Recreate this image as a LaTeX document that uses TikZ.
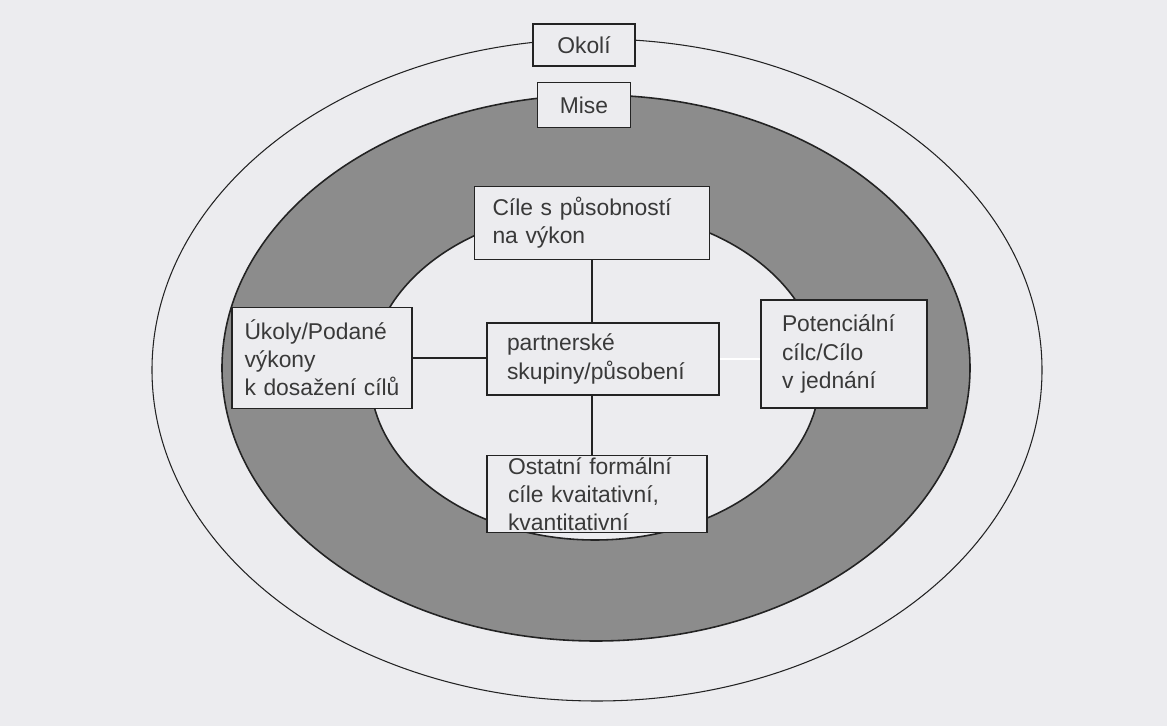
\documentclass[tikz,border=0pt]{standalone}
\usepackage{fontspec}
\setmainfont{Liberation Sans}
\usepackage{xcolor}
\usepackage{tikz}
\usetikzlibrary{positioning}

\definecolor{paper}{RGB}{236,236,239}
\definecolor{ring}{RGB}{140,140,140}
\definecolor{ink}{RGB}{35,35,35}

\begin{document}
\begin{tikzpicture}[x=0.2mm, y=-0.2mm,
		blok/.style={draw=ink, line width=1pt, fill=paper, align=left, text=ink!90,
			inner ysep=0pt, font=\fontsize{13}{16}\selectfont},
		spoj/.style={draw=ink, line width=0.8pt}]
		\useasboundingbox (0,0) rectangle (1167,726);
		\fill[paper] (0,0) rectangle (1167,726);

		\draw[ink, line width=0.6pt] (597,370) ellipse [x radius=89mm, y radius=66.2mm];
		\filldraw[fill=ring, draw=ink, line width=0.9pt] (596,368) ellipse [x radius=74.8mm, y radius=54.6mm];
		\filldraw[fill=paper, draw=ink, line width=0.9pt] (595,375) ellipse [x radius=45mm, y radius=33mm];

		\node[blok, align=center, minimum width=20.4mm, minimum height=8.4mm] (okoli) at (584,45) {Okolí};
		\node[blok, align=center, minimum width=18.6mm, minimum height=9mm] (mise) at (584,105) {Mise};
		\node[blok, text width=39.8mm, inner xsep=3.6mm, minimum height=14.6mm] (cile) at (592,223) {Cíle s působností\\na výkon};
		\node[blok, text width=38.4mm, inner xsep=4mm, minimum height=14.4mm] (partner) at (603,359) {partnerské\\skupiny/působení};
		\node[blok, text width=31mm, inner xsep=2.5mm, minimum height=20.2mm] (ukoly) at (322,358) {Úkoly/Podané\\výkony\\k dosažení cílů};
		\node[blok, text width=24.8mm, inner xsep=4.2mm, minimum height=21.6mm] (poten) at (844,354) {Potenciální\\cílc/Cílo\\v jednání};
		\node[blok, text width=35.6mm, inner xsep=4.2mm, minimum height=15.4mm] (ostatni) at (597,494) {Ostatní formální\\cíle kvaitativní,\\kvantitativní};

		\path[spoj]
		(cile.south) -- (cile.south |- partner.north)
		(cile.south |- partner.south) -- (cile.south |- ostatni.north)
		(ukoly.east) -- (ukoly.east -| partner.west);
		\draw[white, line width=1pt] (partner.east) -- (partner.east -| poten.west);
	\end{tikzpicture}
\end{document}
